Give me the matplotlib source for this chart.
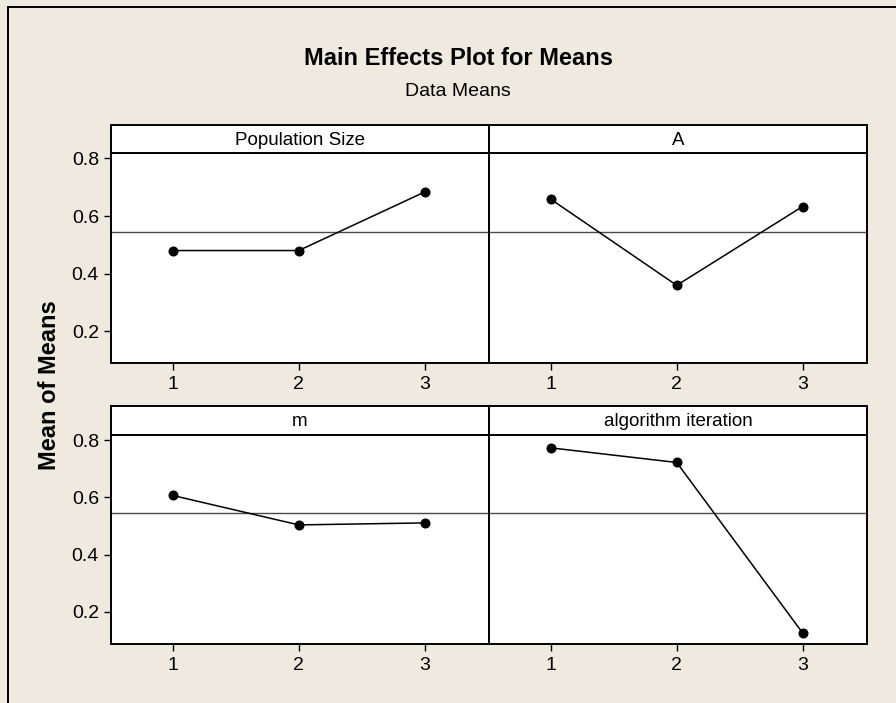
import matplotlib
matplotlib.use("Agg")
import matplotlib.pyplot as plt
from matplotlib.lines import Line2D

plt.rcParams['font.family'] = ['Liberation Sans', 'DejaVu Sans']

# Factor levels and mean responses
levels = [1, 2, 3]
factors = ["Population Size", "A", "m", "algorithm iteration"]
pop_size_means = [0.480, 0.480, 0.684]
a_means = [0.658, 0.359, 0.633]
m_means = [0.607, 0.504, 0.511]
iteration_means = [0.773, 0.722, 0.127]
grand_mean = 0.545
y_ticks = [0.2, 0.4, 0.6, 0.8]

series = [pop_size_means, a_means, m_means, iteration_means]

BG = "#EEEAE0"
W, H = 896, 703
fig = plt.figure(figsize=(W / 100, H / 100), dpi=100, facecolor=BG)

def px_rect(x0, y_top, x1, y_bot):
    return [x0 / W, 1 - y_bot / H, (x1 - x0) / W, (y_bot - y_top) / H]

col_x = [(110.7, 489.3), (489.3, 866.7)]
row_y = [((125, 153.3), 363.3), ((406, 435), 644)]

for idx, (name, vals) in enumerate(zip(factors, series)):
    r, c = divmod(idx, 2)
    x0, x1 = col_x[c]
    (s_top, s_bot), a_bot = row_y[r]

    ax = fig.add_axes(px_rect(x0, s_bot, x1, a_bot))
    ax.set_facecolor("white")
    ax.axhline(grand_mean, color="#4a4a4a", lw=1.0, zorder=1)
    ax.plot(levels, vals, color="black", lw=1.1, marker="o", ms=6.2,
            mfc="black", mec="black", zorder=3)
    ax.set_xlim(0.51, 3.51)
    ax.set_ylim(0.088, 0.818)
    ax.set_xticks(levels)
    ax.set_xticklabels([str(v) for v in levels])
    ax.tick_params(axis="x", length=5, width=1.0, pad=4, labelsize=14)
    if c == 0:
        ax.set_yticks(y_ticks)
        ax.set_yticklabels([f"{t:.1f}" for t in y_ticks])
        ax.tick_params(axis="y", length=5, width=1.0, pad=3.5, labelsize=14)
    else:
        ax.set_yticks([])
    for sp in ax.spines.values():
        sp.set_linewidth(1.4)
        sp.set_color("black")

    strip = fig.add_axes(px_rect(x0, s_top, x1, s_bot))
    strip.set_facecolor("white")
    strip.set_xticks([])
    strip.set_yticks([])
    for sp in strip.spines.values():
        sp.set_linewidth(1.4)
        sp.set_color("black")
    strip.text(0.5, 0.45, name, ha="center", va="center", fontsize=13.5,
               transform=strip.transAxes)

fig.text(458 / W, 1 - 65 / H, "Main Effects Plot for Means", ha="center",
         va="baseline", fontsize=17, fontweight="bold")
fig.text(458 / W, 1 - 96 / H, "Data Means", ha="center", va="baseline",
         fontsize=14)
fig.text(49.5 / W, 1 - 385 / H, "Mean of Means", ha="center", va="center",
         rotation=90, fontsize=17, fontweight="bold")

# Frame around the graph window
fig.add_artist(Line2D([8 / W, 8 / W], [0, 1 - 6.7 / H], color="black",
                      lw=1.4, transform=fig.transFigure))
fig.add_artist(Line2D([8 / W, 1], [1 - 6.7 / H, 1 - 6.7 / H], color="black",
                      lw=1.4, transform=fig.transFigure))

fig.savefig("out.png", dpi=100, facecolor=BG)
